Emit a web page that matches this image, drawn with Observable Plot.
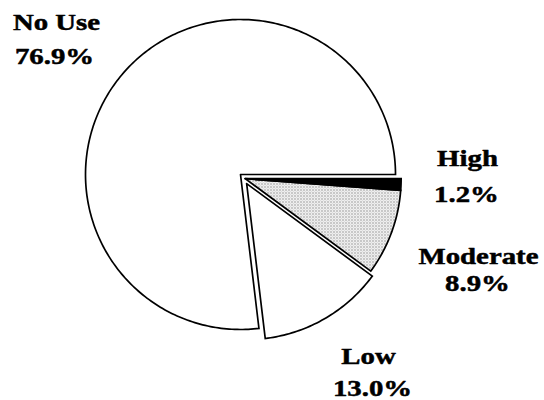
<!DOCTYPE html>
<html><head><meta charset="utf-8">
<script src="https://cdn.jsdelivr.net/npm/d3@7"></script>
<script src="https://cdn.jsdelivr.net/npm/@observablehq/plot@0.6"></script>
<style>html,body{margin:0;padding:0;background:#fff} svg{display:block}</style>
</head><body><div id="chart"></div>
<script>
// ---- data ----
const categories = ["High", "Moderate", "Low", "No Use"];
const shares = [1.2, 8.9, 13.0, 76.9];
const shareLabels = ["1.2%", "8.9%", "13.0%", "76.9%"];

// ---- layout / style (not data) ----
const R = 155;
const fills = ["black", "url(#stipple)", "white", "white"];
const groupExplode = 6.2;              // first three slices pulled out together
const extraExplode = [0, 0, 5.2, 0];   // additional pull per slice
const extraTurn = [0, 0, 0.23, 0];     // radians added to the slice bisector for that pull
const nameAt = [[227, 9], [238, -89], [128, -189], [-184, 145]];
const pctAt  = [[226, -27], [237, -116], [132, -221], [-186, 111]];

// slice angles, clockwise from 3 o'clock
let acc = 0;
const slices = categories.map((c, i) => {
  const a0 = acc; const a1 = acc + shares[i] / 100 * 2 * Math.PI; acc = a1;
  return {c, i, a0, a1};
});
const gb = (slices[0].a0 + slices[2].a1) / 2;
function polygon(s) {
  const mid = (s.a0 + s.a1) / 2 + extraTurn[s.i];
  let ox = 0, oy = 0, r = R;
  if (s.i < 3) {
    ox = groupExplode * Math.cos(gb) + extraExplode[s.i] * Math.cos(mid);
    oy = groupExplode * Math.sin(gb) + extraExplode[s.i] * Math.sin(mid);
    r = R + 1;
  }
  const n = Math.max(2, Math.ceil((s.a1 - s.a0) * 180 / Math.PI));
  const pts = [{x: ox, y: -oy}];
  for (let k = 0; k <= n; k++) {
    const a = s.a0 + (s.a1 - s.a0) * k / n;
    pts.push({x: ox + r * Math.cos(a), y: -(oy + r * Math.sin(a))});
  }
  pts.push({x: ox, y: -oy});
  return pts;
}

const drawOrder = [3, 2, 1, 0];
const sliceMarks = drawOrder.map(i => Plot.line(polygon(slices[i]), {
  x: "x", y: "y", fill: fills[i], stroke: "black", strokeWidth: 1.7,
  strokeLinejoin: "miter", strokeMiterlimit: 10
}));

const labels = categories.map((c, i) => ({name: c, pct: shareLabels[i], nx: nameAt[i][0], ny: nameAt[i][1], px: pctAt[i][0], py: pctAt[i][1]}));
const textStyle = {fontSize: 24, fontWeight: "bold", fontFamily: "Liberation Serif",
  lineAnchor: "bottom", textAnchor: "middle", fill: "black", stroke: "black", strokeWidth: 0.5};

const svg = Plot.plot({
  width: 544, height: 400, margin: 0,
  x: {domain: [-240, 304], axis: null},
  y: {domain: [-226, 174], axis: null},
  marks: [
    ...sliceMarks,
    Plot.text(labels, {x: "nx", y: "ny", text: "name", ...textStyle}),
    Plot.text(labels, {x: "px", y: "py", text: "pct", ...textStyle})
  ]
});

// stipple pattern for "Moderate"
const sel = d3.select(svg);
const defs = sel.insert("defs", ":first-child");
const pat = defs.append("pattern").attr("id", "stipple").attr("patternUnits", "userSpaceOnUse")
  .attr("width", 3).attr("height", 3);
pat.append("rect").attr("width", 3).attr("height", 3).attr("fill", "white");
pat.append("rect").attr("x", 0).attr("y", 0).attr("width", 1).attr("height", 1).attr("fill", "#444");
pat.append("rect").attr("x", 1.5).attr("y", 1.5).attr("width", 1).attr("height", 1).attr("fill", "#777");

// widen the serif glyphs like the scanned original
sel.selectAll("text").each(function() {
  this.style.fontFamily = "'Liberation Serif', 'Times New Roman', serif";
  const t = this.getAttribute("transform");
  if (t && t.includes("translate")) this.setAttribute("transform", t + " scale(1.2,1)");
});
document.getElementById("chart").appendChild(svg);
</script>
</body></html>
